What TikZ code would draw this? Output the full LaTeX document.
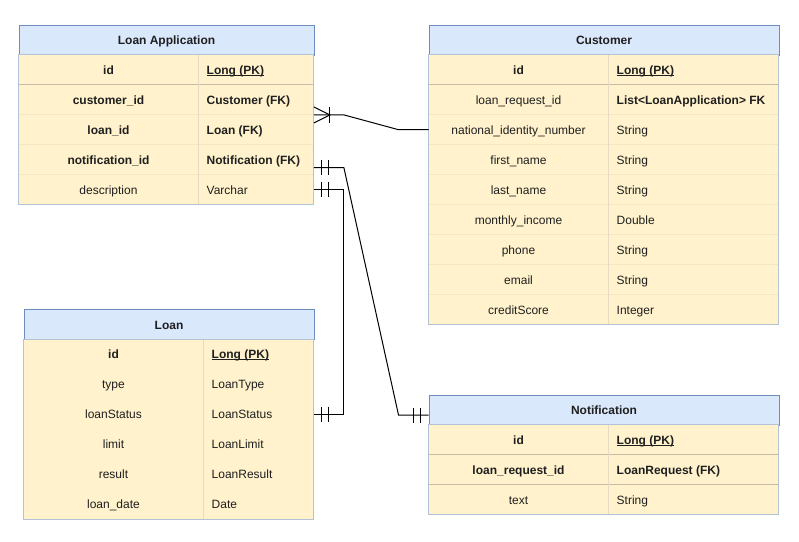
\documentclass[tikz,border=0pt]{standalone}
\usepackage{fontspec}
\setmainfont{Liberation Sans}
\usetikzlibrary{calc}

\definecolor{hdrfill}{HTML}{DAE8FC}
\definecolor{hdrline}{HTML}{6C8EBF}
\definecolor{rowfill}{HTML}{FFF2CC}
\definecolor{bodyline}{HTML}{B4C2D6}
\definecolor{keyline}{HTML}{C4BCA6}
\definecolor{rowline}{HTML}{F2E6C6}
\definecolor{colline}{HTML}{E6DCC2}

% underline sitting just below the baseline
\newcommand\pkline[1]{\setbox0=\hbox{#1}\rlap{\rule[-1.7pt]{\wd0}{0.9pt}}\box0}

\tikzset{
  txt/.style={font=\fontsize{12}{14}\selectfont, text=black!88, inner sep=0pt,
              text height=9pt, text depth=0pt},
  hdr/.style={txt, draw=hdrline, fill=hdrfill, line width=1pt, minimum height=30pt},
  rowbox/.style={fill=rowfill, inner sep=0pt, minimum height=30pt},
  cell/.style={txt},
  rel/.style={draw=black, line width=1pt},
}

% #1 name, #2 left, #3 top, #4 width, #5 first column width, #6 row count,
% #7 title, #8 rows as key/field/type/separator colour
\newcommand\ertable[8]{%
  \node[hdr, minimum width=#4pt, anchor=north west] (#1) at ({#2},{#3}) {\textbf{#7}};
  \foreach [count=\i] \k/\a/\b/\s in {#8} {
    \node[rowbox, minimum width=#4pt, anchor=north west] (#1-\k) at ({#2},{#3+30*\i}) {};
    \draw[draw=\s, line width=1pt] (#1-\k.south west) -- (#1-\k.south east);
    \node[cell] (#1-\k-f) at ({#2+#5/2},{#3+30*\i+15}) {\a};
    \node[cell, anchor=west] (#1-\k-t) at ({#2+#5+8},{#3+30*\i+15}) {\b};
  }
  \draw[colline, line width=1pt] ({#2+#5},{#3+30}) -- ({#2+#5},{#3+30+30*#6});
  \draw[bodyline, line width=1pt] ({#2},{#3+30}) rectangle ({#2+#4},{#3+30+30*#6});
}

\begin{document}
\begin{tikzpicture}[x=1pt, y=-1pt]
  \fill[white] (0,0) rectangle (799,541);
  \useasboundingbox (0,0) rectangle (799,541);

  \ertable{la}{18.5}{24.5}{295}{180}{5}{Loan Application}{%
    id/\textbf{id}/\pkline{\textbf{Long (PK)}}/keyline,
    cust/\textbf{customer\_id}/\textbf{Customer (FK)}/rowline,
    loan/\textbf{loan\_id}/\textbf{Loan (FK)}/rowline,
    notif/\textbf{notification\_id}/\textbf{Notification (FK)}/rowline,
    desc/description/Varchar/rowline}

  \ertable{cu}{428.5}{24.5}{350}{180}{9}{Customer}{%
    id/\textbf{id}/\pkline{\textbf{Long (PK)}}/keyline,
    lrid/loan\_request\_id/\textbf{List<LoanApplication> FK}/rowline,
    nid/national\_identity\_number/String/rowline,
    fn/first\_name/String/rowline,
    ln/last\_name/String/rowline,
    inc/monthly\_income/Double/rowline,
    ph/phone/String/rowline,
    em/email/String/rowline,
    cs/creditScore/Integer/rowline}

  \ertable{lo}{23.5}{309}{290}{180}{6}{Loan}{%
    id/\textbf{id}/\pkline{\textbf{Long (PK)}}/keyline,
    type/type/LoanType/rowline,
    status/loanStatus/LoanStatus/rowline,
    limit/limit/LoanLimit/rowline,
    res/result/LoanResult/rowline,
    date/loan\_date/Date/rowline}

  \ertable{no}{428.5}{394.5}{350}{180}{3}{Notification}{%
    id/\textbf{id}/\pkline{\textbf{Long (PK)}}/keyline,
    lrid/\textbf{loan\_request\_id}/\textbf{LoanRequest (FK)}/keyline,
    text/text/String/rowline}

  % Loan Application (many) -- Customer
  \draw[rel] (la-cust.south east) -- ++(30,0) -- ($(cu-nid.west)+(-30,0)$) -- (cu-nid.west);
  \draw[rel] ($(la-cust.south east)+(0,-8)$) -- ($(la-cust.south east)+(16,0)$)
             -- ($(la-cust.south east)+(0,8)$);
  \draw[rel] ($(la-cust.south east)+(16,-8)$) -- ++(0,16);

  % Loan Application -- Notification (one to one)
  \draw[rel] ($(la-notif.east)+(0,8)$) -- ++(30,0) -- ($(no.west)+(-30,5)$) -- ($(no.west)+(0,5)$);
  \draw[rel] ($(la-notif.east)+(7.5,0.5)$) -- ++(0,15);
  \draw[rel] ($(la-notif.east)+(15,0.5)$) -- ++(0,15);
  \draw[rel] ($(no.west)+(-8,-2.5)$) -- ++(0,15);
  \draw[rel] ($(no.west)+(-15.5,-2.5)$) -- ++(0,15);

  % Loan Application -- Loan (one to one)
  \draw[rel] (la-desc.east) -- ++(30,0) |- (lo-status.east);
  \draw[rel] ($(la-desc.east)+(7.5,-7.5)$) -- ++(0,15);
  \draw[rel] ($(la-desc.east)+(15,-7.5)$) -- ++(0,15);
  \draw[rel] ($(lo-status.east)+(7.5,-7.5)$) -- ++(0,15);
  \draw[rel] ($(lo-status.east)+(15,-7.5)$) -- ++(0,15);
\end{tikzpicture}
\end{document}
